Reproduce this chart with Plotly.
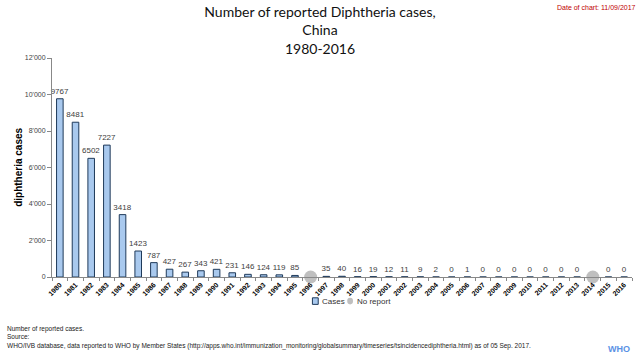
import plotly.graph_objects as go

years = [str(y) for y in range(1980, 2017)]
cases = [9767, 8481, 6502, 7227, 3418, 1423, 787, 427, 267, 343, 421, 231, 146, 124, 119, 85,
         None, 35, 40, 16, 19, 12, 11, 9, 2, 0, 1, 0, 0, 0, 0, 0, 0, 0, None, 0, 0]
no_report_years = ["1996", "2014"]
no_report_vals = [0, 0]
y_ticks = [0, 2000, 4000, 6000, 8000, 10000, 12000]
y_tick_labels = ["0", "2'000", "4'000", "6'000", "8'000", "10'000", "12'000"]

BAR_FILL = "#a9c9ee"
BAR_LINE = "#1f3a5a"
NR_COLOR = "#bfbfbf"

fig = go.Figure()
fig.add_trace(go.Bar(
    x=years, y=cases, name="Cases",
    marker=dict(color=BAR_FILL, line=dict(color=BAR_LINE, width=1)),
    width=0.42,
    text=[("" if v is None else str(v)) for v in cases],
    textposition="outside", cliponaxis=False, constraintext="none",
    textfont=dict(size=8, color="#404040", family="Liberation Sans"),
))
fig.add_trace(go.Scatter(
    x=no_report_years, y=no_report_vals, name="No report", mode="markers",
    marker=dict(color=NR_COLOR, size=13), cliponaxis=False,
))

fig.update_layout(
    width=640, height=360,
    margin=dict(l=52, r=8, t=58, b=83, autoexpand=False),
    plot_bgcolor="white", paper_bgcolor="white",
    font=dict(family="Liberation Sans", color="#000"),
    showlegend=False,
    title=dict(text="Number of reported Diphtheria cases,<br>China<br>1980-2016",
               x=0.5, xanchor="center", y=0.952, yanchor="top",
               font=dict(size=14, family="Lato", color="#111")),
)
fig.update_xaxes(
    type="category", tickangle=-45, showline=True, linecolor="#888",
    ticks="outside", ticklen=3, tickcolor="#888", tickson="boundaries",
    tickvals=years, ticktext=["<b>%s</b>" % y for y in years],
    tickfont=dict(size=7, color="#000", family="Liberation Sans"),
    showgrid=False, automargin=False,
)
fig.update_yaxes(
    range=[0, 12000], tickvals=y_ticks, ticktext=y_tick_labels,
    showline=True, linecolor="#888", ticks="outside", ticklen=4, tickcolor="#888",
    tickfont=dict(size=7, color="#444"), showgrid=False, zeroline=False,
    automargin=False,
)

# y-axis title
fig.add_annotation(text="<b>diphtheria cases</b>", xref="paper", yref="paper",
                   x=-0.058, y=0.5, xanchor="center", yanchor="middle", textangle=-90,
                   showarrow=False, font=dict(size=10, color="#000"))

# compact legend (as in the reference)
fig.add_shape(type="rect", xref="paper", yref="paper", x0=0.449, x1=0.459,
              y0=-0.125, y1=-0.095, fillcolor=BAR_FILL, line=dict(color=BAR_LINE, width=1))
fig.add_annotation(text="Cases", xref="paper", yref="paper", x=0.462, y=-0.11,
                   xanchor="left", yanchor="middle", showarrow=False,
                   font=dict(size=8, color="#333"))
fig.add_shape(type="circle", xref="paper", yref="paper", x0=0.509, x1=0.519,
              y0=-0.125, y1=-0.095, fillcolor=NR_COLOR, line=dict(width=0))
fig.add_annotation(text="No report", xref="paper", yref="paper", x=0.522, y=-0.11,
                   xanchor="left", yanchor="middle", showarrow=False,
                   font=dict(size=8, color="#333"))

fig.add_annotation(text="Date of chart: 11/09/2017", xref="paper", yref="paper",
                   x=1.01, y=1.255, xanchor="right", yanchor="top", showarrow=False,
                   font=dict(size=7, color="#c00000"))
fig.add_annotation(
    text="Number of reported cases.<br>Source:<br>WHO/IVB database, data reported to WHO by Member States (http://apps.who.int/immunization_monitoring/globalsummary/timeseries/tsincidencediphtheria.html) as of 05 Sep. 2017.",
    xref="paper", yref="paper", x=-0.081, y=-0.21, xanchor="left", yanchor="top",
    align="left", showarrow=False, font=dict(size=6.5, color="#222"))
fig.add_annotation(text="<b>WHO</b>", xref="paper", yref="paper", x=1.0, y=-0.36,
                   xanchor="right", yanchor="bottom", showarrow=False,
                   font=dict(size=9, color="#5b92e5"))

fig.write_html("out.html", config={"displayModeBar": False},
               post_script="document.body.style.margin='0px';")
